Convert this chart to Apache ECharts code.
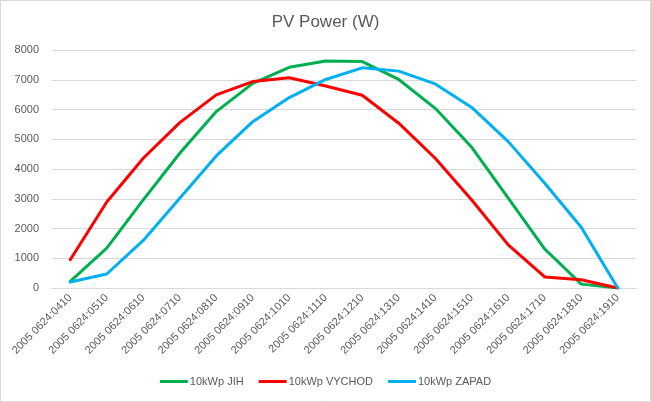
<!DOCTYPE html>
<html><head><meta charset="utf-8">
<script src="https://cdn.jsdelivr.net/npm/echarts@6/dist/echarts.min.js"></script>
<style>html,body{margin:0;padding:0;background:#fff}#c{width:651px;height:402px}</style>
</head><body><div id="c"></div>
<script>
const categories = ["2005 0624:0410","2005 0624:0510","2005 0624:0610","2005 0624:0710","2005 0624:0810","2005 0624:0910","2005 0624:1010","2005 0624:1110","2005 0624:1210","2005 0624:1310","2005 0624:1410","2005 0624:1510","2005 0624:1610","2005 0624:1710","2005 0624:1810","2005 0624:1910"];
const jih = [220,1340,2960,4530,5930,6880,7420,7630,7610,7010,6040,4730,3020,1310,130,0];
const vychod = [950,2890,4360,5560,6490,6940,7070,6790,6480,5540,4360,2960,1450,370,280,0];
const zapad = [200,470,1600,3020,4440,5590,6400,7010,7400,7290,6860,6070,4920,3520,2040,0];
const seriesNames = ["10kWp JIH","10kWp VYCHOD","10kWp ZAPAD"];
const colors = ["#00B050","#FF0000","#00B0F0"];
const font = "Liberation Sans, Arial, sans-serif";
const chart = echarts.init(document.getElementById('c'));
const mk = (name, data, color) => ({
  name, type: 'line', data, symbol: 'none', smooth: false,
  lineStyle: {color, width: 3, cap: 'round', join: 'round'}, itemStyle: {color}
});
chart.setOption({
  animation: false,
  backgroundColor: '#fff',
  title: {text: 'PV Power (W)', left: 'center', top: 9,
    textStyle: {fontFamily: font, fontSize: 17, fontWeight: 'normal', color: '#595959'}},
  grid: {left: 52, right: 15, top: 50, bottom: 114, containLabel: false},
  legend: {bottom: 10, left: 'center', itemWidth: 28, itemHeight: 3, itemGap: 15,
    icon: 'rect',
    textStyle: {fontFamily: font, fontSize: 11, color: '#595959', padding: [0,0,0,-3]},
    data: seriesNames},
  xAxis: {type: 'category', data: categories, boundaryGap: true,
    axisLine: {lineStyle: {color: '#d9d9d9'}}, axisTick: {show: false},
    axisLabel: {rotate: 45, interval: 0, fontFamily: font, fontSize: 11, color: '#595959', margin: 8}},
  yAxis: {type: 'value', min: 0, max: 8000, interval: 1000,
    axisLine: {show: false}, axisTick: {show: false},
    splitLine: {lineStyle: {color: '#d9d9d9'}},
    axisLabel: {fontFamily: font, fontSize: 11, color: '#595959', margin: 13,
      formatter: v => String(v)}},
  series: [mk(seriesNames[0], jih, colors[0]), mk(seriesNames[1], vychod, colors[1]), mk(seriesNames[2], zapad, colors[2])],
  graphic: [{type: 'rect', shape: {x: 0.5, y: 0.5, width: 650, height: 401},
    style: {fill: 'none', stroke: '#d9d9d9', lineWidth: 1}, silent: true, z: -1}]
});
</script></body></html>
